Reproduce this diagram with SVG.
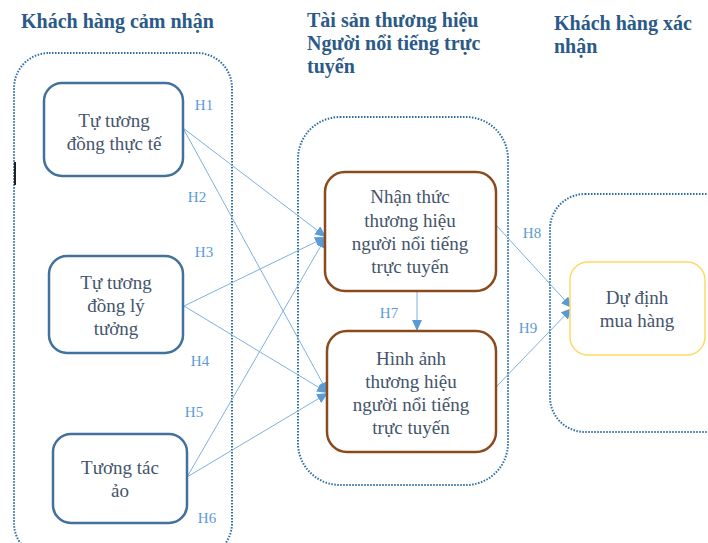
<svg xmlns="http://www.w3.org/2000/svg" width="708" height="543" viewBox="0 0 708 543">
<defs>
<marker id="arr" markerUnits="userSpaceOnUse" markerWidth="12" markerHeight="10" refX="11" refY="5" orient="auto">
<path d="M0,0 L11,5 L0,10 Z" fill="#5B9BD5"/>
</marker>
<style>
.hdr{font-family:"Liberation Serif","Times New Roman",serif;font-weight:bold;font-size:20px;fill:#2B5A88}
.cont{fill:none;stroke:#2E6DA4;stroke-width:2;stroke-dasharray:1.5 1.5}
.src{fill:#fff;stroke:#41719C;stroke-width:2.5}
.mid{fill:#fff;stroke:#8B4A1C;stroke-width:2.5}
.tgt{fill:#fff;stroke:#FFD966;stroke-width:1.5}
.nt{font-family:"Liberation Serif","Times New Roman",serif;font-size:19px;fill:#44546A;text-anchor:middle}
.lbl{font-family:"Liberation Serif","Times New Roman",serif;font-size:15px;fill:#5B9BD5;text-anchor:middle}
.ln{fill:none;stroke:#7DB0E0;stroke-width:1;marker-end:url(#arr)}
</style>
</defs>
<rect width="708" height="543" fill="#fff"/>
<g id="headers">
<text class="hdr" x="21" y="28">Khách hàng cảm nhận</text>
<text class="hdr" x="307" y="27">Tài sản thương hiệu</text>
<text class="hdr" x="307" y="50">Người nổi tiếng trực</text>
<text class="hdr" x="307" y="73">tuyến</text>
<text class="hdr" x="554" y="30">Khách hàng xác</text>
<text class="hdr" x="554" y="53">nhận</text>
</g>
<g id="containers">
<rect class="cont" x="14" y="53" width="218" height="505" rx="35"/>
<rect class="cont" x="298" y="117" width="210" height="368" rx="42"/>
<rect class="cont" x="550" y="194" width="190" height="238" rx="35"/>
</g>
<line x1="15" y1="162" x2="15" y2="185" stroke="#222" stroke-width="2"/>
<g id="connectors">
<line class="ln" x1="183" y1="128" x2="326" y2="237"/>
<line class="ln" x1="183" y1="128" x2="328" y2="393"/>
<line class="ln" x1="184" y1="306" x2="326" y2="237"/>
<line class="ln" x1="184" y1="306" x2="328" y2="393"/>
<line class="ln" x1="187" y1="477" x2="326" y2="237"/>
<line class="ln" x1="187" y1="477" x2="328" y2="393"/>
<line class="ln" x1="417" y1="291" x2="417" y2="331"/>
<line class="ln" x1="496" y1="225" x2="572" y2="308"/>
<line class="ln" x1="496" y1="387" x2="572" y2="308"/>
</g>
<g id="labels">
<text class="lbl" x="204" y="110">H1</text>
<text class="lbl" x="197" y="202">H2</text>
<text class="lbl" x="204" y="257">H3</text>
<text class="lbl" x="200" y="366">H4</text>
<text class="lbl" x="194" y="417">H5</text>
<text class="lbl" x="207" y="523">H6</text>
<text class="lbl" x="389" y="318">H7</text>
<text class="lbl" x="532" y="238">H8</text>
<text class="lbl" x="528" y="333">H9</text>
</g>
<g id="node-tu-tuong-dong-thuc-te">
<rect class="src" x="44" y="83" width="139" height="93" rx="18"/>
<text class="nt" x="114" y="127">Tự tương</text>
<text class="nt" x="114" y="150">đồng thực tế</text>
</g>
<g id="node-tu-tuong-dong-ly-tuong">
<rect class="src" x="49" y="256" width="134" height="97" rx="18"/>
<text class="nt" x="116" y="289">Tự tương</text>
<text class="nt" x="116" y="312">đồng lý</text>
<text class="nt" x="116" y="335">tưởng</text>
</g>
<g id="node-tuong-tac-ao">
<rect class="src" x="53" y="434" width="134" height="89" rx="18"/>
<text class="nt" x="120" y="474">Tương tác</text>
<text class="nt" x="120" y="497">ảo</text>
</g>
<g id="node-nhan-thuc">
<rect class="mid" x="325" y="172" width="171" height="119" rx="20"/>
<text class="nt" x="410" y="203">Nhận thức</text>
<text class="nt" x="410" y="227">thương hiệu</text>
<text class="nt" x="410" y="250">người nổi tiếng</text>
<text class="nt" x="410" y="273">trực tuyến</text>
</g>
<g id="node-hinh-anh">
<rect class="mid" x="327" y="331" width="169" height="121" rx="20"/>
<text class="nt" x="411" y="365">Hình ảnh</text>
<text class="nt" x="411" y="388">thương hiệu</text>
<text class="nt" x="411" y="411">người nổi tiếng</text>
<text class="nt" x="411" y="434">trực tuyến</text>
</g>
<g id="node-du-dinh-mua-hang">
<rect class="tgt" x="570" y="262" width="135" height="93" rx="18"/>
<text class="nt" x="637" y="304">Dự định</text>
<text class="nt" x="637" y="327">mua hàng</text>
</g>
</svg>
